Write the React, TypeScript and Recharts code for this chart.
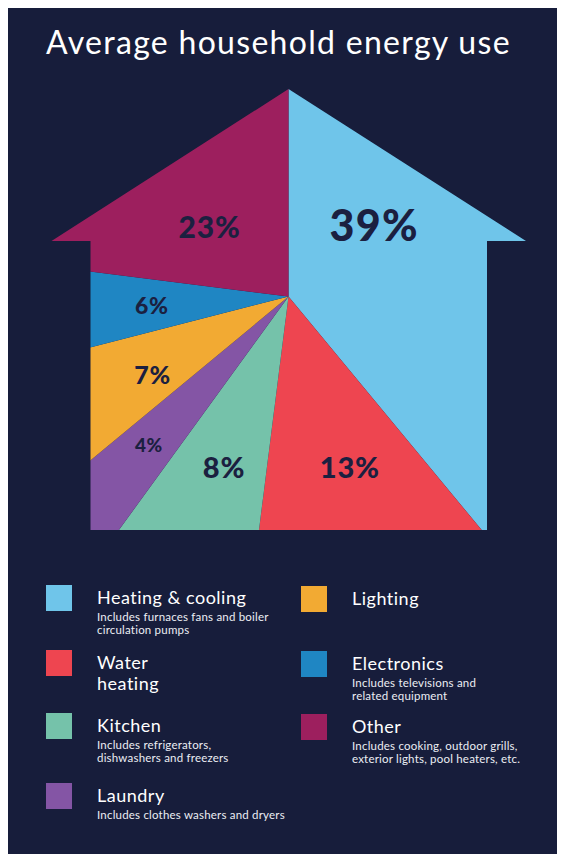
import React from 'react';
import { PieChart, Pie, Cell, Legend } from 'recharts';

// ---------- data ----------
const CATEGORIES = [
  'Heating & cooling',
  'Water heating',
  'Kitchen',
  'Laundry',
  'Lighting',
  'Electronics',
  'Other',
];
const SHARES = [39, 13, 8, 4, 7, 6, 23];
const LEGEND_TITLES = [
  'Heating & cooling',
  'Water\nheating',
  'Kitchen',
  'Laundry',
  'Lighting',
  'Electronics',
  'Other',
];
const DESCRIPTIONS = [
  'Includes furnaces fans and boiler\ncirculation pumps',
  '',
  'Includes refrigerators,\ndishwashers and freezers',
  'Includes clothes washers and dryers',
  '',
  'Includes televisions and\nrelated equipment',
  'Includes cooking, outdoor grills,\nexterior lights, pool heaters, etc.',
];
const TITLE = 'Average household energy use';

// ---------- styles ----------
const COLORS = ['#6fc5ea', '#ee4550', '#75c2aa', '#8455a5', '#f2aa33', '#1f86c3', '#9d1f5e'];
const BG = '#171d3b';
const LABEL_INK = '#1b2040';
const FONT = 'Lato, "Open Sans", sans-serif';

// label placement (polar: radius and angle shift from slice mid-angle) and size
const LABEL_STYLE: Record<string, { r: number; dA: number; size: number }> = {
  'Heating & cooling': { r: 111, dA: 19.7, size: 43 },
  'Water heating': { r: 182, dA: 3.5, size: 29 },
  Kitchen: { r: 183, dA: 1, size: 29 },
  Laundry: { r: 204, dA: 0, size: 19 },
  Lighting: { r: 157, dA: 3.1, size: 25 },
  Electronics: { r: 137, dA: 0.2, size: 23 },
  Other: { r: 105, dA: 7.3, size: 30 },
};

const data = CATEGORIES.map((name, i) => ({ name, value: SHARES[i] }));

const W = 558;
const H = 846;
const CX = 281.5;
const CY = 288.5;
const HOUSE = '281.5,81 519,233 480,233 480,522 83.5,522 83.5,233 44.5,233';
const RAD = Math.PI / 180;

const renderLabel = (props: any) => {
  const { cx, cy, midAngle, name, value } = props;
  const s = LABEL_STYLE[name] || { r: 150, dA: 0, size: 24 };
  const a = (midAngle + s.dA) * RAD;
  const x = cx + s.r * Math.cos(-a);
  const y = cy + s.r * Math.sin(-a);
  return (
    <text
      x={x}
      y={y + s.size * 0.36}
      textAnchor="middle"
      fill={LABEL_INK}
      fontFamily={FONT}
      fontWeight={900}
      fontSize={s.size}
      letterSpacing={s.size * 0.03}
    >
      {`${value}%`}
    </text>
  );
};

const renderLegend = (props: any) => {
  const payload = [...(props.payload || [])].sort(
    (a: any, b: any) => CATEGORIES.indexOf(a.value) - CATEGORIES.indexOf(b.value)
  );
  return (
    <div
      style={{
        display: 'grid',
        gridTemplateColumns: '255px 255px',
        gridTemplateRows: '65px 63px 70px 40px',
        gridAutoFlow: 'column',
        paddingLeft: 39,
        fontFamily: FONT,
        color: '#ffffff',
        textAlign: 'left',
      }}
    >
      {payload.map((entry: any, k: number) => {
        const i = CATEGORIES.indexOf(entry.value);
        const right = i >= 4;
        return (
          <div
            key={k}
            style={{
              display: 'flex',
              alignItems: 'flex-start',
              marginTop: right ? 1 : 0,
              gridColumn: right ? 2 : 1,
              gridRow: right ? i - 3 : i + 1,
            }}
          >
            <div
              style={{
                width: 26,
                height: 26,
                background: entry.color,
                flexShrink: 0,
              }}
            />
            <div style={{ marginLeft: 25 }}>
              <div
                style={{
                  fontSize: 18,
                  lineHeight: '21px',
                  marginTop: 1.5,
                  whiteSpace: 'pre-line',
                  letterSpacing: 0.5,
                }}
              >
                {LEGEND_TITLES[i]}
              </div>
              {DESCRIPTIONS[i] ? (
                <div
                  style={{
                    fontSize: 11.5,
                    lineHeight: '13px',
                    marginTop: 2,
                    whiteSpace: 'pre-line',
                    letterSpacing: 0.2,
                    color: '#eceef4',
                  }}
                >
                  {DESCRIPTIONS[i]}
                </div>
              ) : null}
            </div>
          </div>
        );
      })}
    </div>
  );
};

export default function App() {
  return (
    <div
      style={{
        position: 'relative',
        marginLeft: -1,
        width: W,
        height: H,
        background: BG,
        overflow: 'hidden',
      }}
    >
      <style>{`.house-pie path.recharts-sector { clip-path: url(#house-clip); }`}</style>
      <svg width={0} height={0} style={{ position: 'absolute' }}>
        <defs>
          <clipPath id="house-clip" clipPathUnits="userSpaceOnUse">
            <polygon points={HOUSE} />
          </clipPath>
        </defs>
      </svg>
      <div
        style={{
          position: 'absolute',
          left: 39,
          top: 15.6,
          fontFamily: FONT,
          fontSize: 32,
          lineHeight: '36px',
          color: '#ffffff',
          whiteSpace: 'nowrap',
          letterSpacing: 1.3,
        }}
      >
        {TITLE}
      </div>
      <div className="house-pie" style={{ position: 'absolute', left: 0, top: 0 }}>
        <PieChart width={W} height={H} margin={{ top: 0, right: 0, bottom: 0, left: 0 }}>
          <Pie
            data={data}
            dataKey="value"
            nameKey="name"
            cx={CX}
            cy={CY}
            innerRadius={0}
            outerRadius={330}
            startAngle={90}
            endAngle={-270}
            stroke="none"
            label={renderLabel}
            labelLine={false}
            isAnimationActive={false}
          >
            {data.map((d, i) => (
              <Cell key={d.name} fill={COLORS[i]} />
            ))}
          </Pie>
          <Legend
            content={renderLegend}
            wrapperStyle={{ position: 'absolute', top: 577, left: 0, width: W, bottom: 'auto' }}
          />
        </PieChart>
      </div>
    </div>
  );
}
